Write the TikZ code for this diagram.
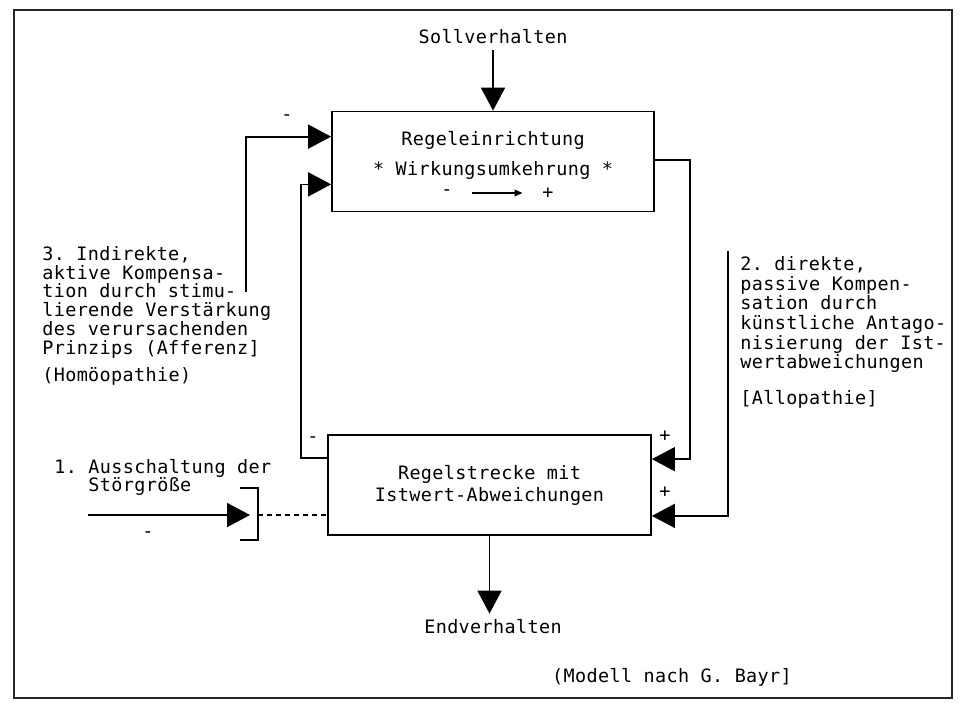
\documentclass[tikz,border=0pt]{standalone}
\usepackage{fontspec}
\setmonofont{DejaVu Sans Mono}[LetterSpace=2]
\usetikzlibrary{arrows.meta, positioning}
\newcommand\printfont[1][10.7]{\ttfamily\fontsize{10.5}{#1}\selectfont\lineskiplimit=-20pt\relax}

\begin{document}
\begin{tikzpicture}[x=0.2mm, y=-0.2mm,
        every node/.style={font=\printfont},
        box/.style={rectangle, draw, line width=1pt, minimum width=64.4mm, minimum height=20mm, align=center,
            font={\printfont[12.5]}},
        note/.style={align=left, inner sep=0pt, anchor=north west},
        sign/.style={inner sep=0pt},
        arrow/.style={-{Triangle[length=4.6mm, width=4.8mm]}, line width=1pt},
        line/.style={line width=1pt}
    ]
        \useasboundingbox (0,0) rectangle (966,702);
        \draw[line width=0.9pt, black!85] (14,10) rectangle (952,698);

        % blocks of the loop
        \node[box] (ctrl) at (493,161.5) {};
        \node (ctrltitle) at (493,140) {Regeleinrichtung};
        \node (ctrlsub) at (493,170) {* Wirkungsumkehrung *};
        \node[sign] (inv-) at (447,193) {-};
        \node[sign] (inv+) at (548,193) {+};
        \node[box, minimum width=64.6mm] (plant) at (489.5,485) {Regelstrecke mit\\Istwert-Abweichungen};
        \node (soll) at (493,37) {Sollverhalten};
        \node (endv) at (493,627) {Endverhalten};
        \node (source) at (672,677) {(Modell nach G. Bayr]};

        \draw[-{Triangle[length=1.6mm, width=1.3mm]}, line width=1pt, shorten <=3.9mm, shorten >=3.9mm] (inv-) -- (inv+);
        \draw[arrow] (soll) -- (ctrl);
        \draw[arrow] (plant.south) -- (plant.south |- endv.north);

        % feedback paths
        \coordinate (fbleft) at (246,292);
        \coordinate (fbinner) at (301,458);
        \coordinate (fbright) at (690,160);
        \coordinate (comp) at (728,251);
        \draw[arrow] (fbleft) |- ([yshift=-5.2mm]ctrl.north west);
        \draw[arrow] (plant.west |- fbinner) -- (fbinner) |- ([yshift=5.6mm]ctrl.south west);
        \draw[arrow] (ctrl.east |- fbright) -- (fbright) |- ([yshift=-5mm]plant.north east);
        \draw[arrow] (comp) |- ([yshift=4mm]plant.south east);

        % disturbance
        \coordinate (distin) at (88,515);
        \coordinate (gate) at (258,515);
        \draw[line] ([xshift=-3.6mm, yshift=5.4mm]gate) -| ([yshift=-5mm]gate) -- ++(-3.6mm,0);
        \draw[arrow, shorten >=1.6mm] (distin) -- (gate);
        \draw[line, dash pattern=on 1mm off 0.8mm] (gate) -- (plant.west |- gate);

        % signs
        \node[sign] (s1) at (287,118) {-};
        \node[sign] (s2) at (313,440) {-};
        \node[sign] (s3) at (148,535) {-};
        \node[sign] (s4) at (665,436) {+};
        \node[sign] (s5) at (665,492) {+};

        % notes
        \node[note, font={\printfont[10.2]}] (dist) at (54,459) {1. Ausschaltung der\\\hphantom{1.~}Störgröße};
        \node[note] (indirect) at (42,246) {3. Indirekte,\\aktive Kompensa-\\tion durch stimu-\\lierende Verstärkung\\des verursachenden\\Prinzips (Afferenz]};
        \node[note] (homoeo) at (42,367) {(Homöopathie)};
        \node[note, font={\printfont[11.2]}] (direct) at (740,256) {2. direkte,\\passive Kompen-\\sation durch\\künstliche Antago-\\nisierung der Ist-\\wertabweichungen};
        \node[note] (allo) at (740,390) {[Allopathie]};
    \end{tikzpicture}
\end{document}
